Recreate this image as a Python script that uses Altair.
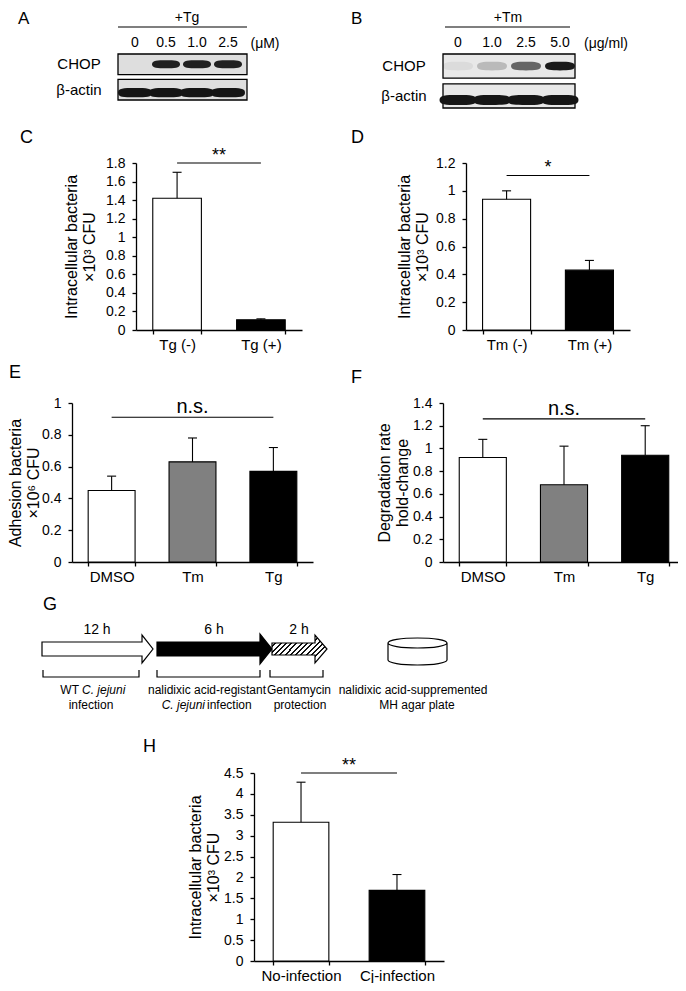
import altair as alt
import pandas as pd

# ---------------- data ----------------
rows_blot = ["CHOP", "β-actin"]
lanes_A = ["0", "0.5", "1.0", "2.5"]
chop_A = [0.0, 0.95, 0.95, 0.95]
actin_A = [1.0, 1.0, 1.0, 1.0]
lanes_B = ["0", "1.0", "2.5", "5.0"]
chop_B = [0.06, 0.22, 0.62, 0.98]
actin_B = [1.0, 1.0, 1.0, 1.0]

cats_C = ["Tg (-)", "Tg (+)"]
mean_C = [1.42, 0.11]
top_C = [1.70, 0.12]

cats_D = ["Tm (-)", "Tm (+)"]
mean_D = [0.94, 0.43]
top_D = [1.00, 0.50]

cats_EF = ["DMSO", "Tm", "Tg"]
mean_E = [0.45, 0.63, 0.57]
top_E = [0.54, 0.78, 0.72]
mean_F = [0.92, 0.68, 0.94]
top_F = [1.08, 1.02, 1.20]

cats_H = ["No-infection", "Cj-infection"]
mean_H = [3.32, 1.69]
top_H = [4.28, 2.07]

stages_G = ["12 h", "6 h", "2 h"]

FONT = "Liberation Sans"
W, H = 670, 975


def X(v):
    return v - 8


def Y(v):
    return v - 8


one = pd.DataFrame({"t": [""]})


def T(text, x, y, size=14, align="center", baseline="alphabetic", style="normal"):
    return alt.Chart(pd.DataFrame({"t": [text]})).mark_text(
        align=align, baseline=baseline, fontSize=size, font=FONT,
        fontStyle=style, color="black"
    ).encode(text="t:N", x=alt.value(X(x)), y=alt.value(Y(y)))


def hline(x0, x1, y, w=1.2):
    return alt.Chart(one).mark_rule(color="black", strokeWidth=w).encode(
        x=alt.value(X(x0)), x2=alt.value(X(x1)), y=alt.value(Y(y)))


def shape(path, cx, cy, width, fill="white", stroke="black", sw=1.2, filled=True):
    kw = dict(shape=path, size=width * width, filled=filled, opacity=1,
              stroke=stroke, strokeWidth=sw)
    if filled:
        kw["fill"] = fill
    return alt.Chart(one).mark_point(**kw).encode(
        x=alt.value(X(cx)), y=alt.value(Y(cy)))


# ---------------- western blots ----------------
BAND = ("M -1 0 C -1 -0.27 -0.6 -0.29 0 -0.29 C 0.6 -0.29 1 -0.27 1 0 "
        "C 1 0.27 0.6 0.29 0 0.29 C -0.6 0.29 -1 0.27 -1 0 Z")
ACTIN = ("M -1 0 C -1 -0.26 -0.7 -0.27 0 -0.27 C 0.7 -0.27 1 -0.26 1 0 "
         "C 1 0.26 0.7 0.27 0 0.27 C -0.7 0.27 -1 0.26 -1 0 Z")


def blot(lanes, chop, actin, lane_rng, frame_x, row_rng, chop_w, actin_w, actin_dy, bg):
    xs = alt.Scale(domain=lanes, range=[X(lane_rng[0]), X(lane_rng[1])],
                   paddingInner=0, paddingOuter=0)
    ys = alt.Scale(domain=rows_blot, range=[Y(row_rng[0]), Y(row_rng[1])],
                   paddingInner=0.19, paddingOuter=0)
    frame = alt.Chart(pd.DataFrame({"row": rows_blot})).mark_rect(
        fill=bg, stroke="black", strokeWidth=1.3
    ).encode(y=alt.Y("row:N", scale=ys, axis=None),
             x=alt.value(X(frame_x[0])), x2=alt.value(X(frame_x[1])))
    dfc = pd.DataFrame({"lane": lanes, "row": ["CHOP"] * 4, "level": chop})
    dfa = pd.DataFrame({"lane": lanes, "row": ["β-actin"] * 4, "level": actin})
    cb = alt.Chart(dfc).mark_point(shape=BAND, size=chop_w * chop_w, filled=True,
                                   color="#151515", strokeWidth=0).encode(
        x=alt.X("lane:N", scale=xs, axis=None),
        y=alt.Y("row:N", scale=ys, axis=None),
        opacity=alt.Opacity("level:Q", scale=None))
    ab = alt.Chart(dfa).mark_point(shape=ACTIN, size=actin_w * actin_w, filled=True,
                                   color="#151515", strokeWidth=0, yOffset=actin_dy).encode(
        x=alt.X("lane:N", scale=xs, axis=None),
        y=alt.Y("row:N", scale=ys, axis=None),
        opacity=alt.Opacity("level:Q", scale=None))
    lab = alt.Chart(pd.DataFrame({"lane": lanes})).mark_text(
        fontSize=14, font=FONT, color="black", baseline="middle").encode(
        x=alt.X("lane:N", scale=xs, axis=None), y=alt.value(Y(43)), text="lane:N")
    rowlab = alt.Chart(pd.DataFrame({"row": rows_blot})).mark_text(
        fontSize=15, font=FONT, color="black", baseline="middle").encode(
        y=alt.Y("row:N", scale=ys, axis=None),
        x=alt.value(X(frame_x[0] - 39)), text="row:N")
    return alt.layer(frame, cb, ab, lab, rowlab)


blotA = blot(lanes_A, chop_A, actin_A, (119.5, 243.5), (118, 247), (54, 100), 28, 34, 3,
             "#dedede")
blotB = blot(lanes_B, chop_B, actin_B, (441, 577), (443, 575), (54, 108), 30, 37, 4,
             "#e8e8e8")

# ---------------- bar panels ----------------
PI, PO = 0.42, 0.2


def centers(n, x0, x1):
    step = (x1 - x0) / (n - PI + 2 * PO)
    bw = step * (1 - PI)
    return [x0 + PO * step + i * step + bw / 2 for i in range(n)]


def bar_panel(cats, means, tops, fills, ymax, ticks, title, x0, x1, y0, ytop,
              sig, sig_y, sig_size, sig_dy, tpad):
    df = pd.DataFrame({"cat": cats, "val": means, "top": tops})
    xs = alt.Scale(domain=cats, range=[X(x0), X(x1)], paddingInner=PI, paddingOuter=PO)
    ys = alt.Scale(domain=[0, ymax], range=[Y(y0), Y(ytop)], nice=False, zero=True)
    xax = alt.Axis(orient="bottom", offset=Y(y0) - H, title=None, labelAngle=0,
                   tickBand="extent", labelFontSize=15, tickSize=4, labelPadding=3,
                   domainWidth=1.3, tickWidth=1.3, labelFont=FONT)
    yax = alt.Axis(orient="left", offset=-X(x0), values=ticks, format="~g", title=title,
                   labelFontSize=14, tickSize=4, labelPadding=7, labelOverlap=False,
                   titleFontSize=16, titleLineHeight=18, titlePadding=tpad,
                   titleFontWeight="normal", domainWidth=1.3, tickWidth=1.3,
                   labelFont=FONT, titleFont=FONT)

    def xe(f):
        return alt.X(f, scale=xs, axis=xax, sort=cats)

    def ye(f):
        return alt.Y(f, scale=ys, axis=yax)

    base = alt.Chart(df)
    bars = base.mark_bar(stroke="black", strokeWidth=1.1).encode(
        x=xe("cat:N"), y=ye("val:Q"),
        color=alt.Color("cat:N", scale=alt.Scale(domain=cats, range=fills), legend=None))
    err = base.mark_rule(color="black", strokeWidth=1.1).encode(
        x=xe("cat:N"), y=ye("val:Q"), y2="top:Q")
    cap = base.mark_tick(color="black", thickness=1.1, size=9, opacity=1).encode(
        x=xe("cat:N"), y=ye("top:Q"))
    sdf = pd.DataFrame({"a": [cats[0]], "b": [cats[-1]], "v": [sig_y], "s": [sig]})
    srule = alt.Chart(sdf).mark_rule(color="black", strokeWidth=1.1).encode(
        x=xe("a:N"), x2="b:N", y=ye("v:Q"))
    c = centers(len(cats), x0, x1)
    mid = (c[0] + c[-1]) / 2
    stext = alt.Chart(sdf).mark_text(fontSize=sig_size, font=FONT, color="black",
                                     baseline="alphabetic", dy=sig_dy).encode(
        x=alt.value(X(mid)), y=ye("v:Q"), text="s:N")
    return alt.layer(bars, err, cap, srule, stext)


t18 = [round(i * 0.2, 1) for i in range(10)]
t12 = [round(i * 0.2, 1) for i in range(7)]
t10 = [round(i * 0.2, 1) for i in range(6)]
t14 = [round(i * 0.2, 1) for i in range(8)]
t45 = [round(i * 0.5, 1) for i in range(10)]

panelC = bar_panel(cats_C, mean_C, top_C, ["white", "black"], 1.8, t18,
                   ["Intracellular  bacteria", "×10³ CFU"], 136, 302, 330, 163,
                   "**", 1.8, 18, -2, 8)
panelD = bar_panel(cats_D, mean_D, top_D, ["white", "black"], 1.2, t12,
                   ["Intracellular  bacteria", "×10³ CFU"], 466, 630, 330, 163,
                   "*", 1.11, 18, -3, 5)
panelE = bar_panel(cats_EF, mean_E, top_E, ["white", "#808080", "black"], 1.0, t10,
                   ["Adhesion bacteria", "×10⁶ CFU"], 72, 313, 562, 403,
                   "n.s.", 0.91, 20, -4, 0)
panelF = bar_panel(cats_EF, mean_F, top_F, ["white", "#808080", "black"], 1.4, t14,
                   ["Degradation  rate", "hold-change"], 443, 685, 562, 403,
                   "n.s.", 1.26, 20, -4, 2)
panelH = bar_panel(cats_H, mean_H, top_H, ["white", "black"], 4.5, t45,
                   ["Intracellular  bacteria", "×10³ CFU"], 254, 444, 961, 773,
                   "**", 4.5, 18, -2, 2)

# ---------------- schematic G ----------------
def arrow_path(total_w, body_h, head_h, head_len):
    u = total_w / 2
    bh = body_h / 2 / u
    hh = head_h / 2 / u
    hs = 1 - head_len / u
    return (f"M -1 {-bh:.3f} L {hs:.3f} {-bh:.3f} L {hs:.3f} {-hh:.3f} L 1 0 "
            f"L {hs:.3f} {hh:.3f} L {hs:.3f} {bh:.3f} L -1 {bh:.3f} Z")


def bracket_path(w, h):
    hh = h / 2 / (w / 2)
    return f"M -1 {-hh:.3f} L -1 {hh:.3f} L 1 {hh:.3f} L 1 {-hh:.3f}"


k = 0.5523
r = 0.17
cy, cb = -0.288, 0.288
CYL = (f"M -1 {cy} C -1 {cy - k * r:.3f} {-k} {cy - r:.3f} 0 {cy - r:.3f} "
       f"C {k} {cy - r:.3f} 1 {cy - k * r:.3f} 1 {cy} "
       f"C 1 {cy + k * r:.3f} {k} {cy + r:.3f} 0 {cy + r:.3f} "
       f"C {-k} {cy + r:.3f} -1 {cy + k * r:.3f} -1 {cy} Z "
       f"M -1 {cy} L -1 {cb} C -1 {cb + k * r:.3f} {-k} {cb + r:.3f} 0 {cb + r:.3f} "
       f"C {k} {cb + r:.3f} 1 {cb + k * r:.3f} 1 {cb} L 1 {cy}")

stops = []
N = 13
for i in range(N):
    a, b, c = i / N, (i + 0.38) / N, (i + 1) / N
    stops += [{"offset": a, "color": "#111"}, {"offset": b, "color": "#111"},
              {"offset": b, "color": "white"}, {"offset": c, "color": "white"}]
hatch = {"gradient": "linear", "x1": 0, "y1": 0, "x2": 1, "y2": 0.5, "stops": stops}

G_layers = [
    T(stages_G[0], 97, 634, 14), T(stages_G[1], 214, 634, 14), T(stages_G[2], 299, 634, 14),
    shape(arrow_path(111, 14, 28, 11), 97.5, 649, 111, fill="white"),
    shape(arrow_path(115, 14, 30, 12), 214.5, 649, 115, fill="black"),
    shape(arrow_path(55, 12, 28, 12), 299.5, 649, 55, fill=hatch),
    shape(CYL, 417.5, 651.5, 59, fill="white"),
    shape(bracket_path(96, 7), 91, 673.5, 96, filled=False),
    shape(bracket_path(103, 7), 208.5, 673.5, 103, filled=False),
    shape(bracket_path(53, 7), 296.5, 673.5, 53, filled=False),
    T("WT", 79, 694, 12, align="right"),
    T("C. jejuni", 82, 694, 12, align="left", style="italic"),
    T("infection", 91, 709, 12),
    T("nalidixic acid-registant", 207, 694, 12),
    T("C. jejuni", 205, 709, 12, align="right", style="italic"),
    T("infection", 207, 709, 12, align="left"),
    T("Gentamycin", 299, 694, 12),
    T("protection", 300, 709, 12),
    T("nalidixic acid-suppremented", 413, 694, 12),
    T("MH agar plate", 417, 709, 12),
]

# ---------------- headers / labels ----------------
extras = [
    T("A", 18, 24, 17, align="left"), T("B", 351, 24, 17, align="left"),
    T("+Tg", 187, 22, 14), hline(118, 247, 27),
    T("(μM)", 265, 48, 14),
    T("+Tm", 508, 22, 14), hline(445, 570, 27),
    T("(μg/ml)", 606, 48, 14),
    T("C", 20, 143, 18, align="left"), T("D", 351, 143, 18, align="left"),
    T("E", 9, 378, 18, align="left"), T("F", 351, 383, 18, align="left"),
    T("G", 43, 610, 18, align="left"), T("H", 143, 752, 18, align="left"),
]

chart = alt.layer(
    blotA, blotB, panelC, panelD, panelE, panelF, panelH, *G_layers, *extras
).resolve_scale(
    x="independent", y="independent", color="independent", opacity="independent"
).resolve_axis(
    x="independent", y="independent"
).properties(
    width=W, height=H, padding=0, autosize=alt.AutoSizeParams(type="none")
).configure_view(stroke=None).configure_axis(
    domainColor="black", tickColor="black", labelColor="black", titleColor="black",
    grid=False
)

chart.save("out.html", embed_options={"renderer": "svg", "actions": False})
